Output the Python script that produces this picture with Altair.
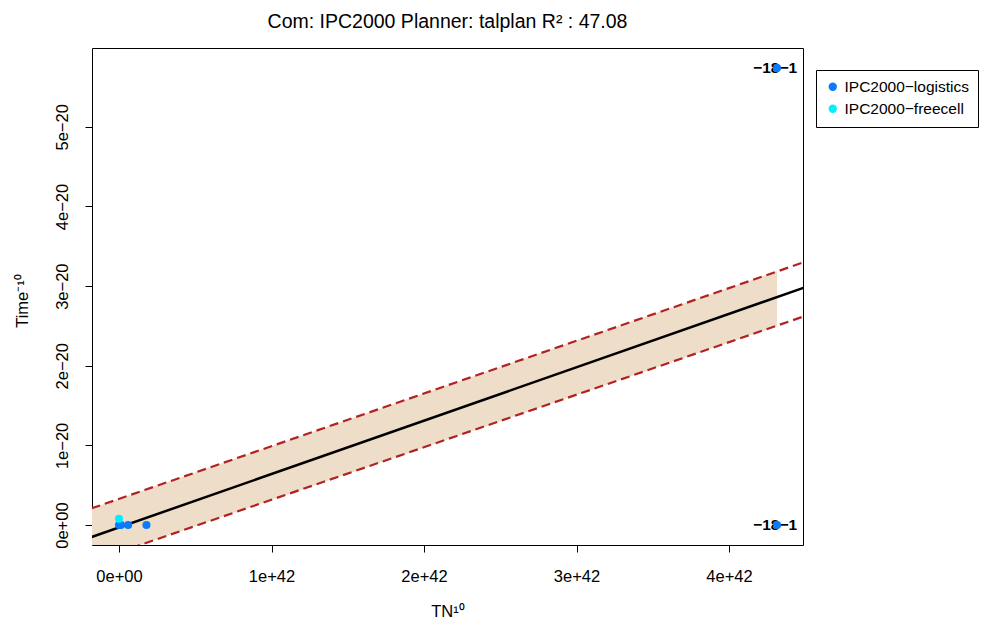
import altair as alt
import pandas as pd

# scatter points
pt_x = [0.0, 0.013e42, 0.06e42, 0.18e42, 4.315e42, 4.315e42, 0.0]
pt_y = [0.0, 0.0, 0.0, 0.0, 5.74e-20, 0.0, 0.08e-20]
pt_dom = ["IPC2000−logistics"] * 6 + ["IPC2000−freecell"]

# outlier labels
lab_x = [4.315e42, 4.315e42]
lab_y = [5.74e-20, 0.0]
lab_t = ["−18−1", "−18−1"]

# regression fit and prediction bounds
line_x = [-0.18e42, 4.49e42]
fit_y = [-0.15e-20, 2.98e-20]
upper_y = [0.21e-20, 3.30e-20]
lower_y = [-0.46e-20, 2.62e-20]

# shaded band
band_x = [-0.18e42, 4.315e42]
band_hi = [0.21e-20, 3.186e-20]
band_lo = [-0.46e-20, 2.498e-20]

x_ticks = [0, 1e42, 2e42, 3e42, 4e42]
y_ticks = [0, 1e-20, 2e-20, 3e-20, 4e-20, 5e-20]

FONT = "Liberation Sans"
W, H = 711, 497

xs = alt.Scale(domain=[-0.177e42, 4.485e42], nice=False, zero=False)
ys = alt.Scale(domain=[-0.25e-20, 5.99e-20], nice=False, zero=False)

lbl = "datum.value == 0 ? '0e+00' : replace(format(datum.value, '.0e'), '-', '−')"
xaxis = alt.Axis(values=x_ticks, labelExpr=lbl, grid=False, tickSize=7, labelPadding=16,
                 labelFontSize=16.5, labelFont=FONT, title="TN¹⁰", titleFont=FONT,
                 titleFontSize=16.5, titleFontWeight="normal", titleX=W / 2, titleY=66,
                 titleBaseline="middle", domain=False, tickColor="black", labelColor="black",
                 titleColor="black")
yaxis = alt.Axis(values=y_ticks, labelExpr=lbl, grid=False, tickSize=7, labelPadding=15,
                 labelAngle=-90, labelAlign="center", labelBaseline="bottom",
                 labelFontSize=16.5, labelFont=FONT, title="Time⁻¹⁰", titleFont=FONT,
                 titleFontSize=16.5, titleFontWeight="normal", titleX=-70, titleY=H / 2 + 4,
                 titleBaseline="middle", titleAngle=-90, domain=False, tickColor="black",
                 labelColor="black", titleColor="black")

band_df = pd.DataFrame({"x": band_x, "hi": band_hi, "lo": band_lo})
line_df = pd.DataFrame({"x": line_x * 3,
                        "y": fit_y + upper_y + lower_y,
                        "k": ["fit"] * 2 + ["up"] * 2 + ["lo"] * 2})
pts_df = pd.DataFrame({"x": pt_x, "y": pt_y, "dom": pt_dom})
lab_df = pd.DataFrame({"x": lab_x, "y": lab_y, "t": lab_t})

band = alt.Chart(band_df).mark_area(color="#EEDDC8", clip=True).encode(
    x=alt.X("x:Q", scale=xs, axis=xaxis), y=alt.Y("hi:Q", scale=ys, axis=yaxis), y2="lo:Q")

fit = alt.Chart(line_df).transform_filter("datum.k == 'fit'").mark_line(
    color="black", strokeWidth=2.5, clip=True).encode(x=alt.X("x:Q", scale=xs), y=alt.Y("y:Q", scale=ys))

bounds = alt.Chart(line_df).transform_filter("datum.k != 'fit'").mark_line(
    color="#B22222", strokeWidth=2.2, strokeDash=[9, 5], clip=True).encode(
    x=alt.X("x:Q", scale=xs), y=alt.Y("y:Q", scale=ys), detail="k:N")

labels = alt.Chart(lab_df).mark_text(font=FONT, fontSize=15.5, fontWeight="bold", color="black",
                                     align="center", baseline="middle", dx=-2).encode(
    x=alt.X("x:Q", scale=xs), y=alt.Y("y:Q", scale=ys), text="t:N")

pts = alt.Chart(pts_df).mark_circle(size=65, opacity=1, clip=True).encode(
    x=alt.X("x:Q", scale=xs), y=alt.Y("y:Q", scale=ys),
    color=alt.Color("dom:N", scale=alt.Scale(domain=["IPC2000−logistics", "IPC2000−freecell"],
                                            range=["#0A7BFF", "#00F0FF"]),
                    legend=alt.Legend(title=None, orient="none", legendX=724, legendY=22,
                                      strokeColor="black", padding=9, labelFont=FONT,
                                      labelFontSize=15.5, symbolSize=70, symbolType="circle",
                                      rowPadding=5, labelColor="black", fillColor="white",
                                      labelLimit=300)),
    order=alt.Order("dom:N", sort="descending"))

chart = alt.layer(band, fit, bounds, labels, pts).properties(
    width=W, height=H,
    background="white",
    title=alt.TitleParams("Com: IPC2000 Planner: talplan R² : 47.08", font=FONT, fontSize=19.5,
                          fontWeight="normal", anchor="middle", offset=16, color="black"),
    autosize=alt.AutoSizeParams(type="none"),
    padding={"left": 84, "top": 40, "right": 180, "bottom": 75},
).configure_view(stroke="black", strokeWidth=1)

chart.save("out.html", embed_options={"renderer": "svg", "actions": False})
